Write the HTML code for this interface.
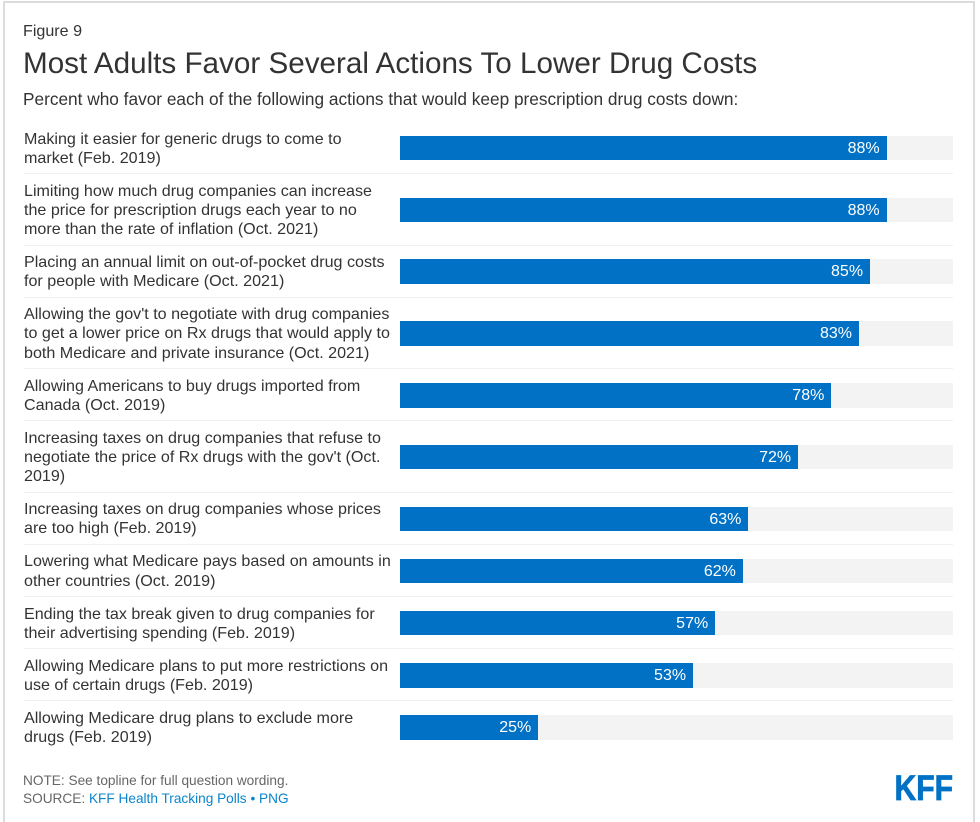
<!DOCTYPE html>
<html lang="en">
<head>
<meta charset="utf-8">
<title>Most Adults Favor Several Actions To Lower Drug Costs</title>
<style>
html,body{margin:0;padding:0;background:#fff;width:980px;height:822px;overflow:hidden;}
body{position:relative;font-family:"Liberation Sans",Arial,sans-serif;}
#frame{position:absolute;left:3px;top:1px;width:968px;height:819px;border:2px solid #dcdcdc;border-bottom:none;box-sizing:content-box;}
.abs{position:absolute;white-space:nowrap;}
#fig{left:23px;top:22px;font-size:16.1px;line-height:18px;color:#333;}
#title{left:23px;top:46px;font-size:29.65px;line-height:36px;color:#333;}
#sub{left:23px;top:88.5px;font-size:17.25px;line-height:20px;color:#333;}
#chart{position:absolute;left:24px;top:122px;width:929px;}
.row{position:relative;width:929px;box-sizing:border-box;border-bottom:1px solid #f0f0f0;}
.row:last-child{border-bottom:none;}
.lab{position:absolute;left:0;top:7.5px;font-size:16.1px;line-height:19.2px;color:#333;white-space:pre;}
.track{position:absolute;left:376px;width:553px;height:24.5px;background:#f3f3f3;}
.bar{position:absolute;left:0;top:0;height:100%;background:#0071c5;}
.val{position:absolute;right:7px;top:1px;line-height:24.5px;font-size:16px;color:#fff;}
#note{left:23px;top:772px;font-size:13.65px;line-height:18px;color:#666;}
#source{left:23px;top:790px;font-size:13.65px;line-height:18px;color:#666;}
#source a{color:#0a84cc;text-decoration:none;}
#logo{position:absolute;left:890px;top:770px;}
</style>
</head>
<body>
<div id="frame"></div>
<div id="fig" class="abs">Figure 9</div>
<div id="title" class="abs">Most Adults Favor Several Actions To Lower Drug Costs</div>
<div id="sub" class="abs">Percent who favor each of the following actions that would keep prescription drug costs down:</div>
<div id="chart"></div>
<div id="note" class="abs">NOTE: See topline for full question wording.</div>
<div id="source" class="abs">SOURCE: <a href="#">KFF Health Tracking Polls</a> <a href="#">•</a> <a href="#">PNG</a></div>
<svg id="logo" width="66" height="34" viewBox="0 0 66 34"><text x="4.5" y="30" font-family="Liberation Sans" font-weight="700" font-size="35" fill="#0071c5" stroke="#0071c5" stroke-width="0.8" textLength="58.5" lengthAdjust="spacingAndGlyphs">KFF</text></svg>
<script>
var categories = [
  "Making it easier for generic drugs to come to\nmarket (Feb. 2019)",
  "Limiting how much drug companies can increase\nthe price for prescription drugs each year to no\nmore than the rate of inflation (Oct. 2021)",
  "Placing an annual limit on out-of-pocket drug costs\nfor people with Medicare (Oct. 2021)",
  "Allowing the gov't to negotiate with drug companies\nto get a lower price on Rx drugs that would apply to\nboth Medicare and private insurance (Oct. 2021)",
  "Allowing Americans to buy drugs imported from\nCanada (Oct. 2019)",
  "Increasing taxes on drug companies that refuse to\nnegotiate the price of Rx drugs with the gov't (Oct.\n2019)",
  "Increasing taxes on drug companies whose prices\nare too high (Feb. 2019)",
  "Lowering what Medicare pays based on amounts in\nother countries (Oct. 2019)",
  "Ending the tax break given to drug companies for\ntheir advertising spending (Feb. 2019)",
  "Allowing Medicare plans to put more restrictions on\nuse of certain drugs (Feb. 2019)",
  "Allowing Medicare drug plans to exclude more\ndrugs (Feb. 2019)"
];
var favorValues = [88, 88, 85, 83, 78, 72, 63, 62, 57, 53, 25];
var axisMax = 100;
function xScale(v) { return (v / axisMax * 100) + '%'; }
var chart = document.getElementById('chart');
categories.forEach(function (label, i) {
  var lineCount = label.split('\n').length;
  var rowH = lineCount * 19.2 + 13.8;
  var row = document.createElement('div');
  
  
  row.className = 'row';
  row.style.height = rowH + 'px';
  var lab = document.createElement('div');
  
  
  lab.className = 'lab';
  lab.textContent = label;
  row.appendChild(lab);
  var track = document.createElement('div');
  
  
  track.className = 'track';
  track.style.top = (rowH / 2 - 12.25) + 'px';
  var bar = document.createElement('div');
  
  
  bar.className = 'bar';
  bar.style.width = xScale(favorValues[i]);
  var val = document.createElement('div');
  
  
  val.className = 'val';
  val.textContent = favorValues[i] + '%';
  bar.appendChild(val);
  track.appendChild(bar);
  row.appendChild(track);
  chart.appendChild(row);
});
</script>
</body>
</html>
